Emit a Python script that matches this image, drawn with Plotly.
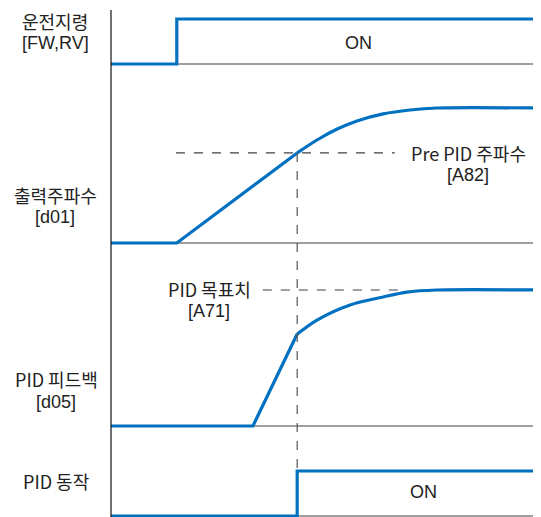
import plotly.graph_objects as go

# time axis: arbitrary units 0..100, signal levels in % of each row's swing
run_t = [0, 15.3, 15.3, 100]
run_v = [0, 0, 100, 100]

freq_ramp_t = [0, 15.3, 43.3]
freq_ramp_v = [0, 0, 66.7]
freq_curve_t = [43.3, 47.9, 52.6, 57.2, 63.3, 69.5, 75.8, 100]
freq_curve_v = [66.7, 76.3, 84.4, 90.4, 95.6, 98.5, 100, 100]

fb_ramp_t = [0, 33.0, 43.3]
fb_ramp_v = [0, 0, 67.6]
fb_curve_t = [43.3, 47.9, 55.6, 63.3, 68.8, 75.8, 100]
fb_curve_v = [67.6, 77.9, 89.0, 94.9, 98.5, 100, 100]

pid_t = [0, 43.3, 43.3, 100]
pid_v = [0, 0, 100, 100]

pre_pid_level = 66.7
target_level = 100
pid_start = 43.3

W, H = 541, 517
OFF = 8  # page body margin; figure sits at (8, 8)
BLUE = "#0070C0"
GRID = "#404040"
TXT = "#222222"
KO_FONT = "Noto Sans CJK KR"
EN_FONT = "Liberation Sans"

# row layout in pixels: (baseline, swing)
rows = {"run": (64, 45), "freq": (243, 135), "fb": (426, 136), "pid": (516, 45)}
X0, XSCALE = 111, 4.3  # px of t=0, px per time unit


def ry(row, vals):
    base, amp = rows[row]
    return [base - amp * v / 100 for v in vals]


fig = go.Figure()

# gray baselines and left axis
for base, _ in rows.values():
    fig.add_shape(type="line", x0=0, x1=100, y0=base, y1=base,
                  line=dict(color=GRID, width=1.2), layer="below")
fig.add_shape(type="line", x0=0, x1=0, y0=10, y1=H,
              line=dict(color="#111111", width=1.2))

# dashed guide lines
yp = ry("freq", [pre_pid_level])[0]
fig.add_shape(type="line", x0=15.1, x1=66.0, y0=yp, y1=yp,
              line=dict(color=GRID, width=1.2, dash="dash"))
yt = ry("fb", [target_level])[0]
fig.add_shape(type="line", x0=35.3, x1=68.8, y0=yt, y1=yt,
              line=dict(color=GRID, width=1.2, dash="dash"))
fig.add_shape(type="line", x0=pid_start, x1=pid_start, y0=yp, y1=ry("pid", [100])[0],
              line=dict(color="#555555", width=1.2, dash="dash"))

line = dict(color=BLUE, width=3.2)
fig.add_trace(go.Scatter(x=run_t, y=ry("run", run_v), mode="lines", line=line))
fig.add_trace(go.Scatter(x=freq_ramp_t, y=ry("freq", freq_ramp_v), mode="lines", line=line))
fig.add_trace(go.Scatter(x=freq_curve_t, y=ry("freq", freq_curve_v), mode="lines",
                         line=dict(line, shape="spline", smoothing=0.8)))
fig.add_trace(go.Scatter(x=fb_ramp_t, y=ry("fb", fb_ramp_v), mode="lines", line=line))
fig.add_trace(go.Scatter(x=fb_curve_t, y=ry("fb", fb_curve_v), mode="lines",
                         line=dict(line, shape="spline", smoothing=0.8)))
fig.add_trace(go.Scatter(x=pid_t, y=ry("pid", pid_v), mode="lines", line=line))

# (text, x px, y px, font)
labels = [
    ("운전지령", 55, 21, KO_FONT), ("[FW,RV]", 55, 43, EN_FONT),
    ("출력주파수", 55, 195, KO_FONT), ("[d01]", 55, 217, EN_FONT),
    ("PID 피드백", 56, 379, KO_FONT), ("[d05]", 56, 402, EN_FONT),
    ("PID 동작", 56, 481, KO_FONT),
    ("ON", 358, 43, EN_FONT), ("ON", 423, 492, EN_FONT),
    ("Pre PID 주파수", 468, 153, KO_FONT), ("[A82]", 468, 175, EN_FONT),
    ("PID 목표치", 209, 289, KO_FONT), ("[A71]", 209, 311, EN_FONT),
]
for text, x, y, fam in labels:
    fig.add_annotation(text=text, x=(x - OFF) / (W - OFF), y=1 - (y - OFF) / (H - OFF),
                       xref="paper", yref="paper",
                       xanchor="center", yanchor="middle", showarrow=False,
                       font=dict(family=fam, size=18, color=TXT))

fig.update_layout(
    width=W - OFF, height=H - OFF,
    margin=dict(l=0, r=0, t=0, b=0),
    plot_bgcolor="white", paper_bgcolor="white",
    showlegend=False,
    xaxis=dict(range=[(OFF - X0) / XSCALE, (W - X0) / XSCALE], visible=False),
    yaxis=dict(range=[H, OFF], visible=False),
)

fig.write_html("out.html")
